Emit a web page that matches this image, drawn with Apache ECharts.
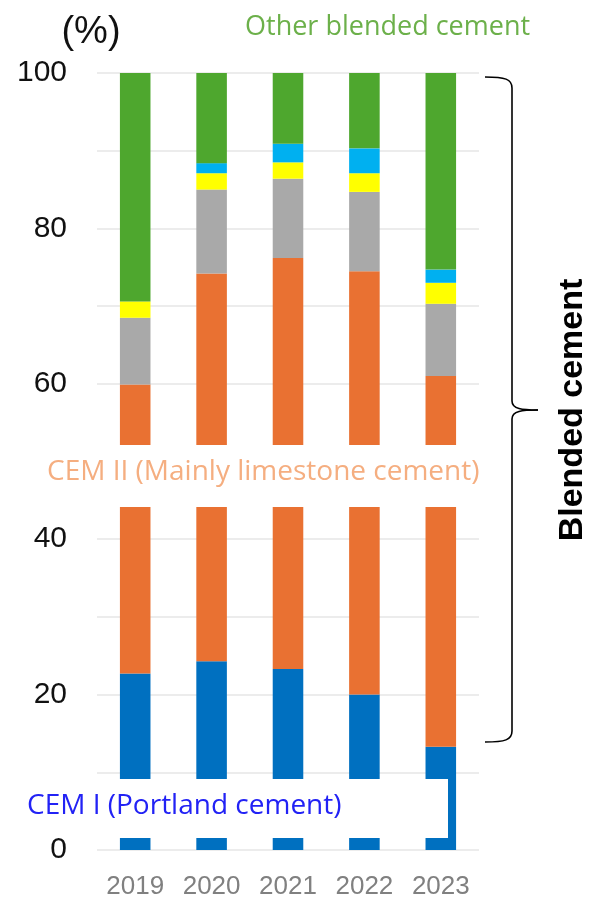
<!DOCTYPE html>
<html>
<head>
<meta charset="utf-8">
<script src="https://cdn.jsdelivr.net/npm/echarts@6/dist/echarts.min.js"></script>
<style>html,body{margin:0;padding:0;background:#fff;}#c{width:590px;height:903px;}</style>
</head>
<body>
<div id="c"></div>
<script>
const years = ['2019', '2020', '2021', '2022', '2023'];
const cem1 = [22.7, 24.3, 23.3, 20.0, 13.3];
const cem2 = [37.2, 49.9, 52.9, 54.5, 47.7];
const grayPart = [8.6, 10.8, 10.2, 10.2, 9.3];
const yellowPart = [2.1, 2.1, 2.1, 2.4, 2.7];
const cyanPart = [0, 1.3, 2.4, 3.2, 1.7];
const otherBlended = [29.4, 11.6, 9.1, 9.7, 25.3];
const yTicks = [0, 20, 40, 60, 80, 100];

const chart = echarts.init(document.getElementById('c'));
function bar(name, data, color) {
  return { name, type: 'bar', stack: 'all', data, barWidth: '40%', itemStyle: { color }, emphasis: { disabled: true } };
}
const braceStyle = { fill: 'none', stroke: '#000', lineWidth: 1.6 };
chart.setOption({
  animation: false,
  grid: { left: 97, right: 111, top: 73, bottom: 53 },
  xAxis: {
    type: 'category', data: years,
    axisLine: { show: false }, axisTick: { show: false },
    axisLabel: { interval: 0, color: '#808080', fontSize: 26, fontFamily: 'Arial, Liberation Sans', margin: 24 }
  },
  yAxis: {
    type: 'value', min: 0, max: 100, interval: 10,
    axisLine: { show: false }, axisTick: { show: false },
    axisLabel: {
      color: '#111', fontSize: 30, fontFamily: 'Arial, Liberation Sans', margin: 30,
      formatter: v => yTicks.includes(v) ? String(v) : ''
    },
    splitLine: { lineStyle: { color: '#e6e6e6', width: 1.5 } }
  },
  series: [
    bar('CEM I', cem1, '#0070C0'),
    bar('CEM II', cem2, '#E97132'),
    bar('Gray', grayPart, '#A9A9A9'),
    bar('Yellow', yellowPart, '#FFFF00'),
    bar('Cyan', cyanPart, '#00B0F0'),
    bar('Other blended cement', otherBlended, '#4EA72E')
  ],
  graphic: [
    { type: 'rect', z: 100, shape: { x: 37, y: 445, width: 450, height: 62 }, style: { fill: '#fff' } },
    { type: 'rect', z: 100, shape: { x: 10, y: 779, width: 438, height: 59 }, style: { fill: '#fff' } },
    { type: 'text', z: 101, x: 245, y: 27, style: { text: 'Other blended cement', fill: '#6CB04A', fontSize: 27, fontFamily: 'Open Sans', align: 'left', verticalAlign: 'middle' } },
    { type: 'text', z: 101, x: 47, y: 472, style: { text: 'CEM II (Mainly limestone cement)', fill: '#F5AE80', fontSize: 28, fontFamily: 'Open Sans', align: 'left', verticalAlign: 'middle' } },
    { type: 'text', z: 101, x: 27, y: 806, style: { text: 'CEM I (Portland cement)', fill: '#2222F5', fontSize: 28, fontFamily: 'Open Sans', align: 'left', verticalAlign: 'middle' } },
    { type: 'text', z: 101, x: 91, y: 33, style: { text: '(%)', fill: '#111', fontSize: 38, fontFamily: 'Arial, Liberation Sans', align: 'center', verticalAlign: 'middle' } },
    { type: 'text', z: 101, x: 573, y: 410, rotation: Math.PI / 2, style: { text: 'Blended cement', fill: '#000', fontSize: 34, fontWeight: 'bold', fontFamily: 'Arial, Liberation Sans', align: 'center', verticalAlign: 'middle' } },
    { type: 'bezierCurve', z: 101, shape: { x1: 485, y1: 77, cpx1: 505, cpy1: 77, cpx2: 512, cpy2: 79, x2: 512, y2: 88 }, style: braceStyle },
    { type: 'line', z: 101, shape: { x1: 512, y1: 88, x2: 512, y2: 401 }, style: braceStyle },
    { type: 'bezierCurve', z: 101, shape: { x1: 512, y1: 401, cpx1: 512, cpy1: 409, cpx2: 522, cpy2: 410, x2: 538, y2: 410 }, style: braceStyle },
    { type: 'bezierCurve', z: 101, shape: { x1: 538, y1: 410, cpx1: 522, cpy1: 410, cpx2: 512, cpy2: 411, x2: 512, y2: 419 }, style: braceStyle },
    { type: 'line', z: 101, shape: { x1: 512, y1: 419, x2: 512, y2: 731 }, style: braceStyle },
    { type: 'bezierCurve', z: 101, shape: { x1: 512, y1: 731, cpx1: 512, cpy1: 740, cpx2: 505, cpy2: 742, x2: 485, y2: 742 }, style: braceStyle }
  ]
});
</script>
</body>
</html>
